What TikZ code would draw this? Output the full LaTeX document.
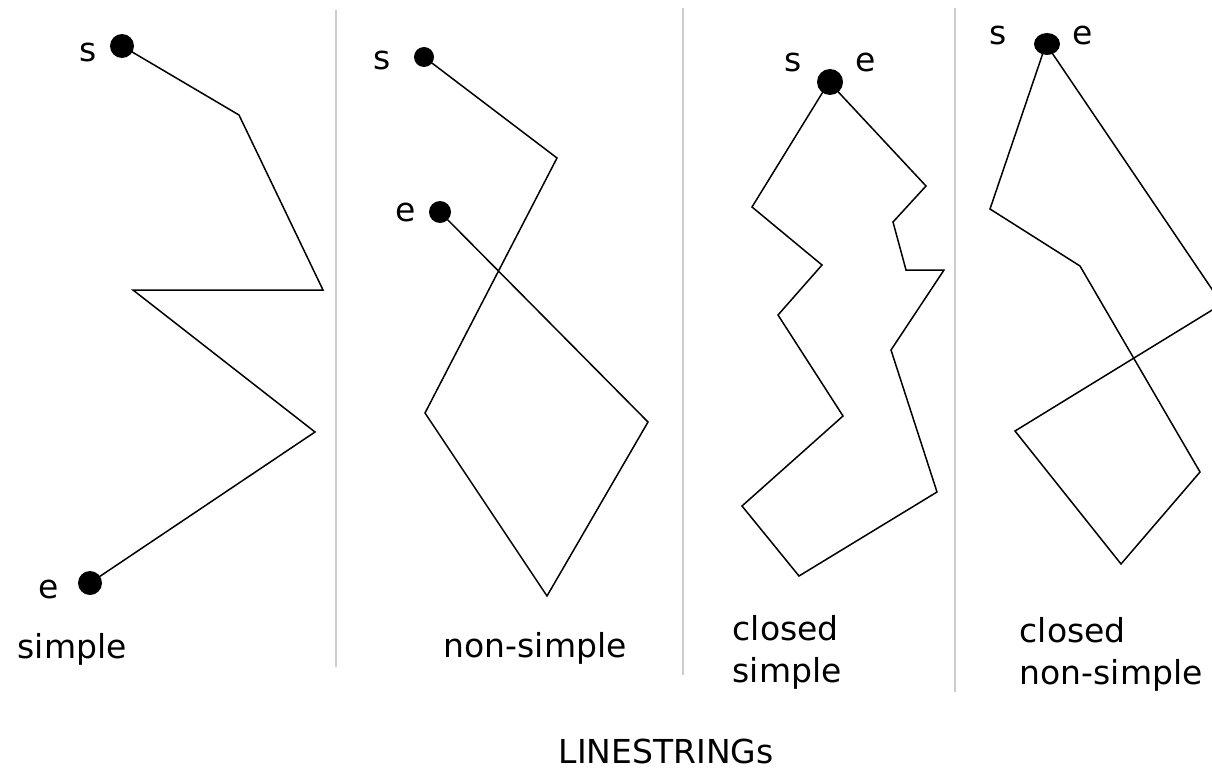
\documentclass[tikz,border=0pt]{standalone}
\usepackage{fontspec}
\setmainfont{DejaVu Sans}
\usepackage{tikz}

\begin{document}
\begin{tikzpicture}[x=1pt,y=-1pt,line width=1.5pt,
    every node/.style={font=\fontsize{33}{42}\selectfont,inner sep=0pt},
    sep/.style={draw=gray!40,line width=2pt},
    enddot/.style={fill=black}]
            \useasboundingbox (0,0) rectangle (1212,773);
            \clip (0,0) rectangle (1212,773);
            % separators
            \draw[sep] (336,10) -- (336,667);
            \draw[sep] (683,8) -- (683,675);
            \draw[sep] (955,8) -- (955,692);
            % simple
            \draw (122,46) -- (239,115) -- (323,290) -- (133,290) -- (315,432) -- (90,583);
            \fill[enddot] (122,46) circle (12);
            \fill[enddot] (90,583) circle (12);
            \node at (88,52) {s};
            \node at (49,589) {e};
            \node[anchor=base west] at (17,658) {simple};
            % non-simple
            \draw (424,57) -- (557,158) -- (425,413) -- (547,596) -- (648,422) -- (440,212);
            \fill[enddot] (424,57) circle (10);
            \fill[enddot] (440,212) circle (11);
            \node at (382,60) {s};
            \node at (406,212) {e};
            \node[anchor=base west] at (443,657) {non-simple};
            % closed simple
            \draw (829,82) -- (752,207) -- (822,265) -- (778,315) -- (843,416) -- (742,506)
                -- (799,576) -- (937,492) -- (891,350) -- (944,270) -- (906,270)
                -- (893,222) -- (926,186) -- cycle;
            \fill[enddot] (830,82) circle (13);
            \node at (793,62) {s};
            \node at (866,62) {e};
            \node[anchor=base west] at (732,640) {closed};
            \node[anchor=base west] at (732,682) {simple};
            % closed non-simple
            \draw (1046,44) -- (990,209) -- (1080,266) -- (1200,472) -- (1121,564)
                -- (1015,431) -- (1222,304) -- cycle;
            \fill[enddot] (1047,44) ellipse (13 and 11);
            \node at (998,35) {s};
            \node at (1083,35) {e};
            \node[anchor=base west] at (1019,642) {closed};
            \node[anchor=base west] at (1019,684) {non-simple};
            % title
            \node[anchor=base west] at (558,763) {LINESTRINGs};
        \end{tikzpicture}
\end{document}
